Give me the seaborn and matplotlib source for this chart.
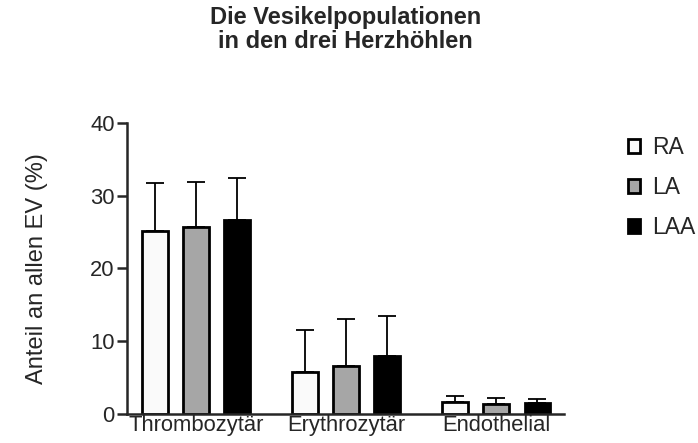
import matplotlib
matplotlib.use("Agg")
import matplotlib.pyplot as plt
from matplotlib.patches import Patch
import seaborn as sns
import pandas as pd

# data
categories = ["Thrombozytär", "Erythrozytär", "Endothelial"]
groups = ["RA", "LA", "LAA"]
ra_mean = [25.2, 5.8, 1.7]
la_mean = [25.7, 6.6, 1.4]
laa_mean = [26.6, 8.0, 1.5]
ra_sd = [6.5, 5.8, 0.8]
la_sd = [6.2, 6.5, 0.8]
laa_sd = [5.9, 5.4, 0.5]
colors = ["#fafafa", "#a6a6a6", "#000000"]

means = [ra_mean, la_mean, laa_mean]
sds = [ra_sd, la_sd, laa_sd]
df = pd.DataFrame({
    "cat": [c for _ in groups for c in categories],
    "group": [g for g in groups for _ in categories],
    "value": [v for m in means for v in m],
})

sns.set_style("ticks")
plt.rcParams["font.family"] = ["Liberation Sans", "DejaVu Sans"]

fig = plt.figure(figsize=(6.98, 4.43), dpi=100)
ax = fig.add_axes([0.182, 0.0655, 0.626, 0.657])

sns.barplot(data=df, x="cat", y="value", hue="group", order=categories,
            hue_order=groups, palette=colors, width=0.82, gap=0.37,
            edgecolor="black", linewidth=2, errorbar=None, ax=ax,
            legend=False, saturation=1)

# upward-only error bars on top of each bar
for i, g in enumerate(groups):
    cont = ax.containers[i]
    for patch, m, s in zip(cont.patches, means[i], sds[i]):
        xc = patch.get_x() + patch.get_width() / 2
        ax.errorbar(xc, m, yerr=[[0], [s]], fmt="none", ecolor="black",
                    elinewidth=1.3, capsize=6.5, capthick=1.3, zorder=1)

ax.set_xlim(-0.46, 2.45)
ax.set_ylim(0, 40)
ax.set_yticks([0, 10, 20, 30, 40])
ax.set_xlabel("")
ax.set_ylabel("Anteil an allen EV (%)", fontsize=17, labelpad=30)
ax.tick_params(axis="y", length=7, width=1.8, labelsize=15.8, pad=2)
ax.tick_params(axis="x", length=0, labelsize=15.8, pad=1)
for sp in ["left", "bottom"]:
    ax.spines[sp].set_linewidth(1.8)
sns.despine(ax=ax)

# legend
handles = [Patch(facecolor=c, edgecolor="black", linewidth=2) for c in colors]
fig.legend(handles, groups, loc="upper left", bbox_to_anchor=(0.87, 0.74),
           frameon=False, fontsize=16.5, handlelength=0.55, handleheight=0.55,
           labelspacing=0.75, handletextpad=0.5)

fig.suptitle("Die Vesikelpopulationen\nin den drei Herzhöhlen", x=0.495, y=0.987,
             fontsize=17, fontweight="bold", linespacing=1.07)

fig.savefig("out.png", dpi=100)
